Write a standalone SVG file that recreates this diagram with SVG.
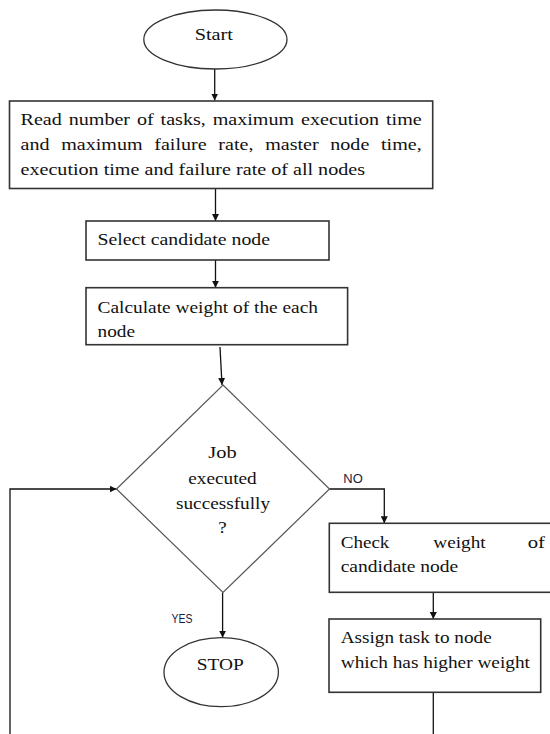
<svg xmlns="http://www.w3.org/2000/svg" width="550" height="734" viewBox="0 0 550 734">
<defs>
<marker id="ah" viewBox="0 0 10 10" refX="10" refY="5" markerWidth="7" markerHeight="7" markerUnits="userSpaceOnUse" orient="auto">
<path d="M0,0 L10,5 L0,10 z" fill="#111"/>
</marker>
<style>
.box{fill:#fff;stroke:#333;stroke-width:1.6}
.term{fill:#fff;stroke:#333;stroke-width:1.3}
.dia{fill:#fff;stroke:#555;stroke-width:1.2}
.t{font-size:17px;fill:#111}
.lbl{font-size:12px;fill:#1a1a40}
.c{fill:none;stroke:#111;stroke-width:1.3}
</style>
</defs>
<rect width="550" height="734" fill="#fff"/>
<g id="connectors">
<path class="c" d="M214.7,69 V100.5" marker-end="url(#ah)"/>
<path class="c" d="M215.5,189 V221" marker-end="url(#ah)"/>
<path class="c" d="M215.5,260 V287.7" marker-end="url(#ah)"/>
<path class="c" d="M220,347 L222,385" marker-end="url(#ah)"/>
<path class="c" d="M329.5,489 H384.3 V523.3" marker-end="url(#ah)"/>
<path class="c" d="M433.3,592.3 V619" marker-end="url(#ah)"/>
<path class="c" d="M433.3,692.3 V734"/>
<path class="c" d="M222.6,592.5 V637.7" marker-end="url(#ah)"/>
<path class="c" d="M10,734 V489 H116.5" marker-end="url(#ah)"/>
<g font-family="Liberation Sans, Arial, sans-serif">
<text class="lbl" x="343.3" y="482.7" textLength="19.4" lengthAdjust="spacingAndGlyphs">NO</text>
<text class="lbl" x="171.5" y="622.7" textLength="21" lengthAdjust="spacingAndGlyphs">YES</text>
</g>
</g>
<g font-family="Liberation Serif, Times New Roman, serif">
<g id="start">
<ellipse class="term" cx="215.4" cy="39.5" rx="71.6" ry="29.5"/>
<text class="t" x="194.7" y="40" textLength="38.3" lengthAdjust="spacingAndGlyphs">Start</text>
</g>
<g id="read">
<rect class="box" x="9.5" y="101" width="423.2" height="87.5"/>
<text class="t" x="20.5" y="124.5" word-spacing="1.6" textLength="401.2" lengthAdjust="spacingAndGlyphs">Read number of tasks, maximum execution time</text>
<text class="t" x="20.5" y="149.5" word-spacing="5.7" textLength="401.2" lengthAdjust="spacingAndGlyphs">and maximum failure rate, master node time,</text>
<text class="t" x="20.5" y="174.5" textLength="344.5" lengthAdjust="spacingAndGlyphs">execution time and failure rate of all nodes</text>
</g>
<g id="select">
<rect class="box" x="86" y="221" width="243" height="39"/>
<text class="t" x="97.5" y="244.5" textLength="172.5" lengthAdjust="spacingAndGlyphs">Select candidate node</text>
</g>
<g id="calc">
<rect class="box" x="86" y="287.7" width="261.6" height="57"/>
<text class="t" x="97.5" y="312.7" textLength="220.5" lengthAdjust="spacingAndGlyphs">Calculate weight of the each</text>
<text class="t" x="97.5" y="336.5" textLength="37.5" lengthAdjust="spacingAndGlyphs">node</text>
</g>
<g id="decision">
<polygon class="dia" points="223,385 329.5,489 223,592.5 116.5,489"/>
<text class="t" x="208.3" y="458.3" textLength="28.4" lengthAdjust="spacingAndGlyphs">Job</text>
<text class="t" x="188.3" y="484" textLength="68.4" lengthAdjust="spacingAndGlyphs">executed</text>
<text class="t" x="176" y="509.3" textLength="94" lengthAdjust="spacingAndGlyphs">successfully</text>
<text class="t" x="218.3" y="533.3" textLength="8.4" lengthAdjust="spacingAndGlyphs">?</text>
</g>
<g id="check">
<rect class="box" x="329.3" y="523.3" width="240" height="69"/>
<text class="t" x="340.7" y="548.3" textLength="48.7" lengthAdjust="spacingAndGlyphs">Check</text>
<text class="t" x="433.3" y="548.3" textLength="52.4" lengthAdjust="spacingAndGlyphs">weight</text>
<text class="t" x="527.7" y="548.3" textLength="17.3" lengthAdjust="spacingAndGlyphs">of</text>
<text class="t" x="340.7" y="571.7" textLength="117.6" lengthAdjust="spacingAndGlyphs">candidate node</text>
</g>
<g id="assign">
<rect class="box" x="329" y="619" width="211.7" height="73.3"/>
<text class="t" x="340.7" y="643.3" textLength="151" lengthAdjust="spacingAndGlyphs">Assign task to node</text>
<text class="t" x="340.7" y="668.3" textLength="189.3" lengthAdjust="spacingAndGlyphs">which has higher weight</text>
</g>
<g id="stop">
<ellipse class="term" cx="221.2" cy="672.2" rx="57.2" ry="34.5"/>
<text class="t" x="196.8" y="670" textLength="47" lengthAdjust="spacingAndGlyphs">STOP</text>
</g>
</g>
</svg>
